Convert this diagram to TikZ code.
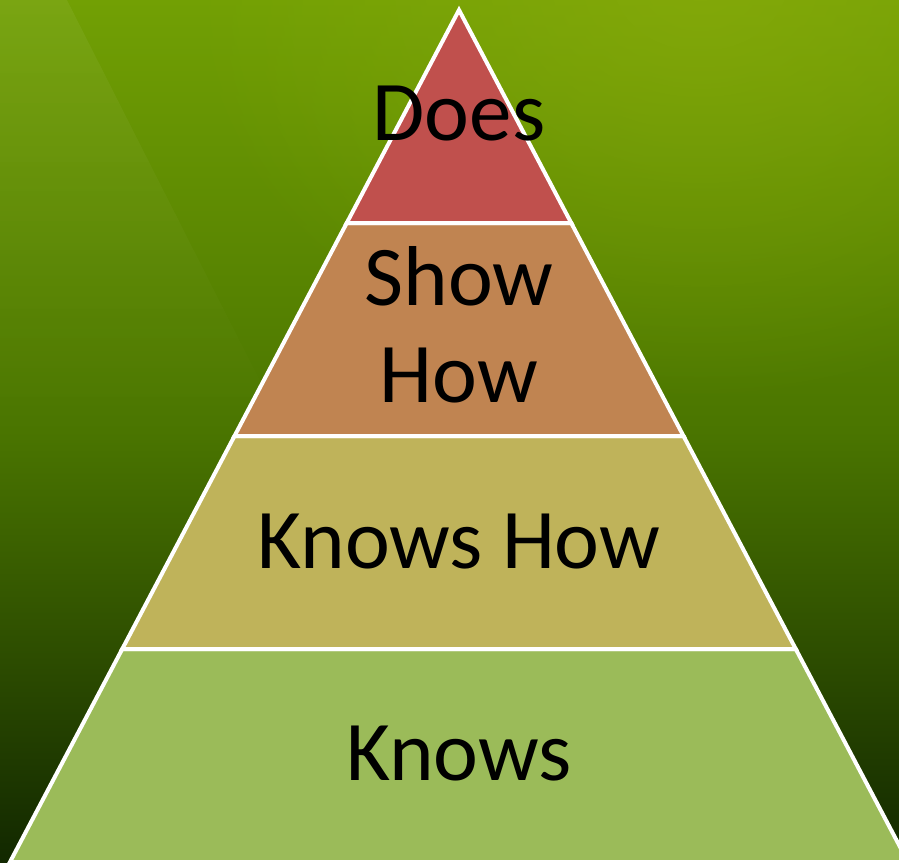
\documentclass[tikz,border=0pt]{standalone}
\usepackage{fontspec}
\setmainfont{Carlito}
\usetikzlibrary{calc,fadings}

\definecolor{bgtop}{HTML}{72A004}
\definecolor{bgmid}{HTML}{4A7500}
\definecolor{bgbot}{HTML}{122800}
\definecolor{bgglow}{HTML}{8EAE0C}
\definecolor{doesfill}{HTML}{C0504D}
\definecolor{showfill}{HTML}{C08451}
\definecolor{knowshowfill}{HTML}{BFB35A}
\definecolor{knowsfill}{HTML}{9BBB59}

\tikzfading[name=softglow, inner color=transparent!0, outer color=transparent!100]

\begin{document}
\begin{tikzpicture}[
                x=1pt, y=-1pt,
                layer/.style={draw=white, line width=4pt, line join=miter},
                lbl/.style={font=\fontsize{85}{97}\selectfont, align=center, text=black, inner sep=0pt}
                ]

                \useasboundingbox (0,0) rectangle (899,862);

                % background
                \shade[top color=bgtop, bottom color=bgbot, middle color=bgmid] (0,0) rectangle (899,862);
                \begin{scope}
                \clip (0,0) rectangle (899,862);
                \fill[bgglow, fill opacity=0.6, path fading=softglow] (700,-20) ellipse (520 and 420);
                \fill[white, fill opacity=0.06, path fading=south] (0,0) -- (67,0) -- (290,440) -- (0,440) -- cycle;

                \coordinate (apex) at (459,10);
                \coordinate (bl) at (10,862);
                \coordinate (br) at (908,862);

                \draw[layer, fill=knowsfill] ($(apex)!0.75!(bl)$) -- ($(apex)!0.75!(br)$) -- (br) -- (bl) -- cycle;
                \draw[layer, fill=knowshowfill] ($(apex)!0.5!(bl)$) -- ($(apex)!0.5!(br)$) -- ($(apex)!0.75!(br)$) -- ($(apex)!0.75!(bl)$) -- cycle;
                \draw[layer, fill=showfill] ($(apex)!0.25!(bl)$) -- ($(apex)!0.25!(br)$) -- ($(apex)!0.5!(br)$) -- ($(apex)!0.5!(bl)$) -- cycle;
                \draw[layer, fill=doesfill] (apex) -- ($(apex)!0.25!(br)$) -- ($(apex)!0.25!(bl)$) -- cycle;
                \end{scope}

                \node[lbl, anchor=base] (does) at (459,140) {Does};
                \node[lbl, anchor=base] (showhow) at (459,402) {Show\\How};
                \node[lbl, anchor=base] (knowshow) at (459,568) {Knows How};
                \node[lbl, anchor=base] (knows) at (459,780) {Knows};
\end{tikzpicture}
\end{document}
